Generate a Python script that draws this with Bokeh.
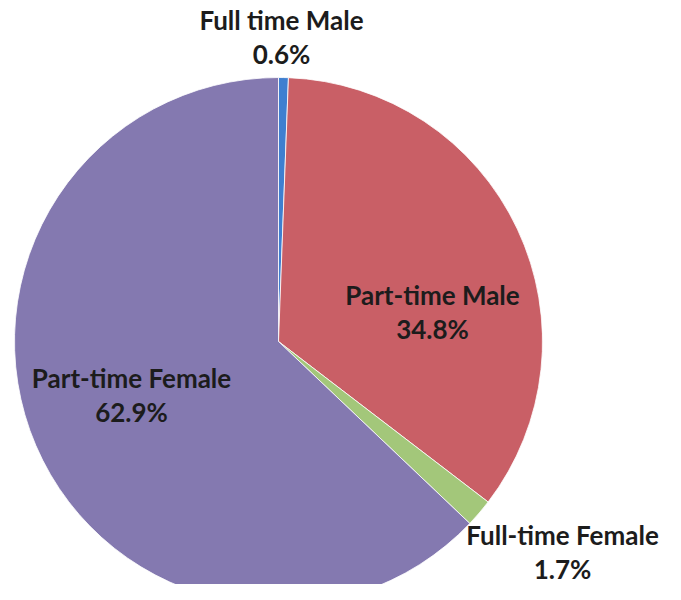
import numpy as np
from bokeh.plotting import figure
from bokeh.models import ColumnDataSource, Range1d
from bokeh.core.properties import value
from bokeh.embed import file_html
from bokeh.resources import INLINE

categories = ["Full time Male", "Part-time Male", "Full-time Female", "Part-time Female"]
shares = [0.6, 34.8, 1.7, 62.9]
colors = ["#3F7FD0", "#C95F66", "#A3C77A", "#8479B0"]

# layout (picture pixel coordinates, y measured downward from the top)
W, H = 665, 584
cx_px, cy_px, r_px = 278, 341, 264
label_pos_px = [(281, 36), (432, 311), (562, 551), (131, 394)]


def Y(ypx):
    return 600 - ypx


vals = np.array(shares, dtype=float)
frac = vals / vals.sum()
cum = np.concatenate([[0], np.cumsum(frac)])
start = np.pi / 2 - cum[:-1] * 2 * np.pi
end = np.pi / 2 - cum[1:] * 2 * np.pi

src = ColumnDataSource(dict(x=[cx_px] * 4, y=[Y(cy_px)] * 4, start=start, end=end,
                            color=colors, cat=categories))

p = figure(width=W, height=H, output_backend="svg", toolbar_location=None,
           x_range=Range1d(0, W), y_range=Range1d(600 - H, 600),
           min_border=0)
p.axis.visible = False
p.grid.visible = False
p.outline_line_color = None
p.background_fill_color = "white"

p.wedge(x="x", y="y", radius=r_px, start_angle="start", end_angle="end",
        direction="clock", fill_color="color", line_color="white", line_width=0.8,
        source=src)

line_gap = 34
lx, ly1, ly2, t1, t2 = [], [], [], [], []
for (x, y), c, v in zip(label_pos_px, categories, shares):
    lx.append(x)
    ly1.append(Y(y - line_gap / 2))
    ly2.append(Y(y + line_gap / 2))
    t1.append(c)
    t2.append(f"{v:.1f}%")

lsrc = ColumnDataSource(dict(x=lx + lx, y=ly1 + ly2, t=t1 + t2))
p.text(x="x", y="y", text="t", source=lsrc, text_align="center",
       text_baseline="middle", text_font=value("Lato"), text_font_style="bold",
       text_font_size="26px", text_color="#1c1c1c")

open("out.html", "w").write(file_html(p, INLINE))
